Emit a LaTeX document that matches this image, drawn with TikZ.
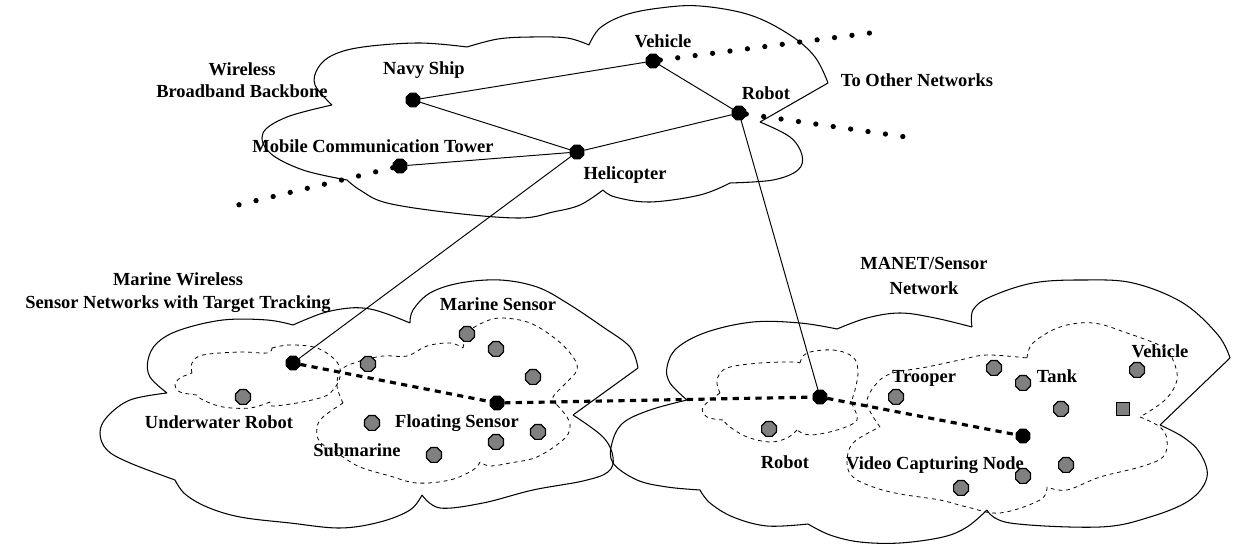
\documentclass[tikz,border=0pt]{standalone}
\usepackage{fontspec}
\setmainfont{Liberation Serif}
\usetikzlibrary{shapes.geometric}
\definecolor{dotgray}{RGB}{128,128,128}
\newcommand\lbfont{\fontsize{10.5}{12.6}\selectfont\bfseries}
\begin{document}
\begin{tikzpicture}[x=0.02cm,y=-0.02cm,
  cloud/.style={line width=0.6pt, line join=round},
  cluster/.style={line width=0.45pt, dash pattern=on 2.2pt off 2.2pt},
  link/.style={line width=0.55pt},
  farlink/.style={line width=3pt, line cap=round, dash pattern=on 0pt off 10pt},
  meshlink/.style={line width=1.8pt, dash pattern=on 3.5pt off 3pt},
  bdot/.style={regular polygon, regular polygon sides=8, minimum size=0.3cm, inner sep=0pt, fill=black, draw=black},
  gdot/.style={regular polygon, regular polygon sides=8, minimum size=0.32cm, inner sep=0pt, fill=dotgray, draw=black, line width=0.7pt},
  gsq/.style={rectangle, minimum size=0.25cm, inner sep=0pt, fill=dotgray, draw=black, line width=0.7pt},
  lbl/.style={font=\lbfont, inner sep=0pt, anchor=base}]
\useasboundingbox (0,0) rectangle (1235,546);

% ---------- clouds ----------
% backbone cloud
\draw[cloud]
  plot[smooth, tension=0.6] coordinates {(332,105) (315,85) (318,68) (333,55) (363,47) (419,43) (467,47)}
  plot[smooth, tension=0.6] coordinates {(467,47) (498,39) (532,37) (567,38) (589,45)}
  plot[smooth, tension=0.6] coordinates {(589,45) (600,28) (625,15) (660,8) (700,6) (750,15) (790,35) (815,57) (828,83)}
  -- (760,122)
  plot[smooth, tension=0.6] coordinates {(760,122) (790,137) (802,155) (798,170) (773,180) (730,183)}
  plot[smooth, tension=0.6] coordinates {(730,183) (700,195) (650,202) (615,197) (603,190)}
  plot[smooth, tension=0.6] coordinates {(603,190) (580,205) (553,212) (520,218) (453,213) (387,203) (360,190) (347,180)}
  plot[smooth, tension=0.6] coordinates {(347,180) (303,170) (270,153) (263,133) (287,117) (332,105)};
% marine cloud
\draw[cloud]
  plot[smooth, tension=0.6] coordinates {(167,393) (150,377) (148,360) (157,343) (180,330) (223,320) (267,320) (293,325)}
  plot[smooth, tension=0.6] coordinates {(293,325) (323,313) (350,308) (370,309) (390,315) (410,323)}
  plot[smooth, tension=0.6] coordinates {(410,323) (413,310) (430,293) (460,283) (500,280) (537,287) (567,303) (603,327) (630,347) (638,368)}
  -- (573,415)
  plot[smooth, tension=0.6] coordinates {(573,415) (603,437) (613,457) (608,472) (583,481) (533,490) (483,503) (440,508) (422,495)}
  plot[smooth, tension=0.6] coordinates {(422,495) (410,510) (380,522) (340,528) (290,523) (240,517) (207,507) (185,494) (175,480)}
  plot[smooth, tension=0.6] coordinates {(175,480) (130,463) (107,450) (100,433) (107,417) (130,400) (167,393)};
% manet cloud
\draw[cloud]
  plot[smooth, tension=0.6] coordinates {(687,400) (670,383) (667,367) (677,348) (707,332) (753,322) (800,323) (837,329)}
  plot[smooth, tension=0.6] coordinates {(837,329) (867,318) (900,313) (935,318) (972,327)}
  plot[smooth, tension=0.6] coordinates {(972,327) (973,310) (990,297) (1033,283) (1083,280) (1133,283) (1183,303) (1218,335) (1230,358)}
  -- (1160,425)
  plot[smooth, tension=0.6] coordinates {(1160,425) (1183,437) (1200,453) (1207,477) (1190,500) (1150,517) (1100,527) (1010,523) (987,510)}
  plot[smooth, tension=0.6] coordinates {(987,510) (967,527) (943,537) (900,543) (860,542) (830,535) (808,524)}
  plot[smooth, tension=0.6] coordinates {(808,524) (767,526) (733,517) (710,503) (700,490)}
  plot[smooth, tension=0.6] coordinates {(700,490) (667,487) (637,480) (613,463) (612,443) (623,423) (650,410) (687,400)};

% ---------- dashed clusters ----------
\draw[cluster]
  plot[smooth, tension=0.6] coordinates {(192,373) (192,363) (203,355) (240,352) (267,353) (272,348)}
  plot[smooth, tension=0.6] coordinates {(272,348) (290,345) (317,348) (337,362) (340,377) (333,390) (323,397) (297,403) (272,406) (270,402)}
  plot[smooth, tension=0.6] coordinates {(270,402) (250,408) (223,407) (203,400) (197,395)}
  plot[smooth, tension=0.6] coordinates {(197,395) (180,392) (175,385) (180,378) (192,373)};
\draw[cluster]
  plot[smooth, tension=0.6] coordinates {(343,403) (337,386) (341,370) (357,362) (383,356) (407,356) (427,346) (450,343) (463,348)}
  plot[smooth, tension=0.6] coordinates {(463,348) (468,333) (480,324) (500,318) (530,323) (557,340) (573,357) (577,370) (565,384) (553,397) (557,405)}
  plot[smooth, tension=0.6] coordinates {(557,405) (567,417) (570,428) (563,440) (537,457) (510,463) (490,466) (480,462)}
  plot[smooth, tension=0.6] coordinates {(480,462) (473,470) (450,480) (417,483) (390,476) (360,467) (340,455) (320,442) (317,428) (323,417) (343,403)};
\draw[cluster]
  plot[smooth, tension=0.6] coordinates {(720,393) (717,380) (727,368) (760,363) (793,362) (800,363)}
  plot[smooth, tension=0.6] coordinates {(800,363) (807,353) (833,350) (853,357) (858,372) (855,390) (852,403) (857,420) (837,430) (810,435) (797,430)}
  plot[smooth, tension=0.6] coordinates {(797,430) (787,438) (770,442) (747,437) (730,427) (723,420)}
  plot[smooth, tension=0.6] coordinates {(723,420) (707,417) (703,407) (720,393)};
\draw[cluster]
  plot[smooth, tension=0.6] coordinates {(880,427) (867,403) (877,383) (893,373) (927,367) (960,360) (987,355) (1027,358)}
  plot[smooth, tension=0.6] coordinates {(1027,358) (1033,343) (1060,327) (1093,323) (1127,333) (1163,347) (1173,360) (1177,380) (1165,400) (1140,417)}
  plot[smooth, tension=0.6] coordinates {(1140,417) (1160,427) (1167,440) (1163,457) (1140,467) (1100,477) (1067,490) (1047,487)}
  plot[smooth, tension=0.6] coordinates {(1047,487) (1040,500) (1000,513) (967,507) (940,500) (900,494) (873,487) (853,477) (847,463) (853,443) (880,427)};

% ---------- nodes ----------
\node[bdot] (navy) at (413,100) {};
\node[bdot] (veh)  at (653,61) {};
\node[bdot] (rob)  at (739,113) {};
\node[bdot] (heli) at (577,152) {};
\node[bdot] (mct)  at (400,166) {};
\node[bdot] (uw)   at (293,363) {};
\node[bdot] (fs)   at (497,403) {};
\node[bdot] (mr)   at (820,397) {};
\node[bdot] (vc)   at (1023,436) {};

\node[gdot] (g1)  at (243,397) {};
\node[gdot] (g2)  at (368,364) {};
\node[gdot] (g3)  at (467,334) {};
\node[gdot] (g4)  at (496,349) {};
\node[gdot] (g5)  at (533,377) {};
\node[gdot] (g6)  at (372,423) {};
\node[gdot] (g7)  at (538,432) {};
\node[gdot] (g8)  at (496,442) {};
\node[gdot] (g9)  at (434,455) {};
\node[gdot] (g10) at (769,429) {};
\node[gdot] (g11) at (896,397) {};
\node[gdot] (g12) at (994,368) {};
\node[gdot] (g13) at (1023,383) {};
\node[gdot] (g14) at (1061,409) {};
\node[gdot] (g15) at (1137,370) {};
\node[gdot] (g16) at (1066,465) {};
\node[gdot] (g17) at (1023,476) {};
\node[gdot] (g18) at (961,488) {};
\node[gsq]  (sq)  at (1123,409) {};

\coordinate (e1) at (238,205);
\coordinate (e2) at (878,32);
\coordinate (e3) at (913,138);

% ---------- connectors ----------
\draw[link] (navy) -- (veh);
\draw[link] (navy) -- (heli);
\draw[link] (veh) -- (rob);
\draw[link] (heli) -- (rob);
\draw[link] (mct) -- (heli);
\draw[link] (heli) -- (uw);
\draw[link] (rob) -- (mr);
\draw[farlink] (mct) -- (e1);
\draw[farlink] (veh) -- (e2);
\draw[farlink] (rob) -- (e3);
\draw[meshlink] (uw) -- (fs);
\draw[meshlink] (fs) -- (mr);
\draw[meshlink] (mr) -- (vc);

% ---------- labels ----------
\node[lbl, align=center, anchor=north, font=\fontsize{10.5}{12.5}\selectfont\bfseries] (wbL) at (242,62.5) {Wireless\\Broadband Backbone};
\node[lbl] (navyL) at (424,75) {Navy Ship};
\node[lbl] (vehL) at (663,48) {Vehicle};
\node[lbl] (robL) at (766,100) {Robot};
\node[lbl] (mctL) at (373,153) {Mobile Communication Tower};
\node[lbl] (heliL) at (625,180) {Helicopter};
\node[lbl] (toL) at (917,87) {To Other Networks};
\node[lbl, align=center, anchor=north, font=\fontsize{10.5}{13.1}\selectfont\bfseries] (mwL) at (178,272.5) {Marine Wireless\\Sensor Networks with Target Tracking};
\node[lbl] (msL) at (498,311) {Marine Sensor};
\node[lbl] (uwL) at (219,429) {Underwater Robot};
\node[lbl] (fsL) at (457,428) {Floating Sensor};
\node[lbl] (subL) at (357,457) {Submarine};
\node[lbl, align=center, anchor=north, font=\fontsize{10.5}{14.2}\selectfont\bfseries] (manL) at (924,257) {MANET/Sensor\\Network};
\node[lbl] (trL) at (924,383) {Trooper};
\node[lbl] (tkL) at (1057,383) {Tank};
\node[lbl] (vh2L) at (1160,358) {Vehicle};
\node[lbl] (rb2L) at (785,469) {Robot};
\node[lbl] (vcL) at (935,470) {Video Capturing Node};
\end{tikzpicture}
\end{document}
